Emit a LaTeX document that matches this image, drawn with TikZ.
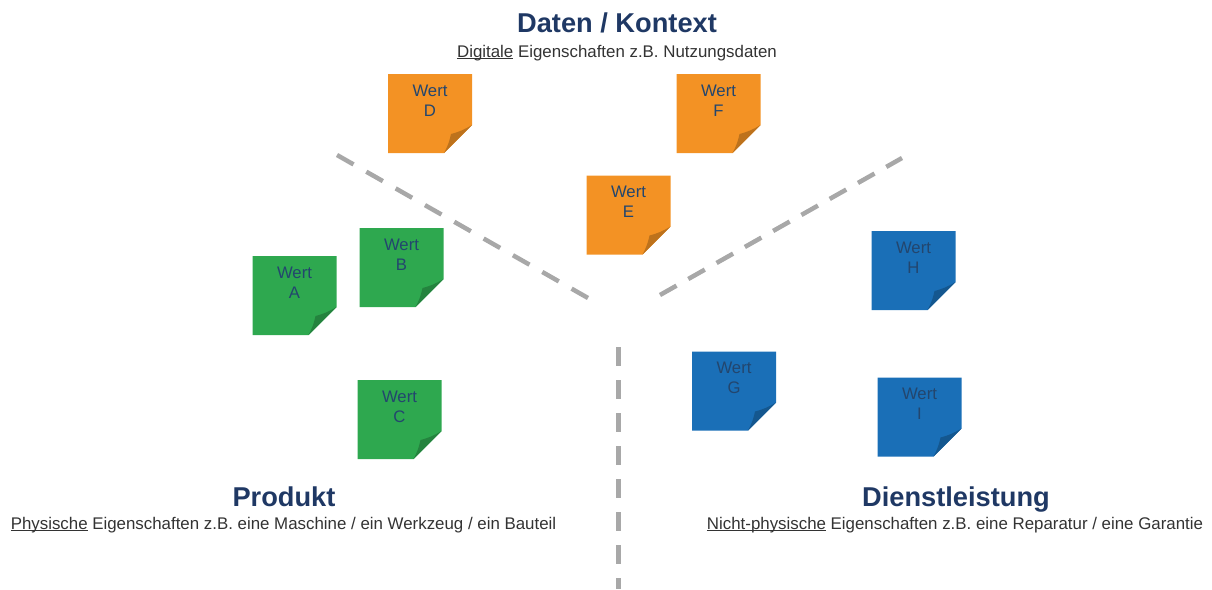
\documentclass[tikz,border=0pt]{standalone}
\usepackage{fontspec}
\setmainfont{Liberation Sans}
\usepackage{xcolor}
\definecolor{TitleBlue}{HTML}{1F3864}
\definecolor{NoteOrange}{HTML}{F39224}
\definecolor{NoteGreen}{HTML}{2EA84F}
\definecolor{NoteBlue}{HTML}{1A6FB7}
\definecolor{NoteText}{HTML}{23466E}
\definecolor{SubGrey}{HTML}{333333}
\definecolor{SepGrey}{HTML}{A8A8A8}
\usepackage{tikz}
\usetikzlibrary{positioning}
% underline that sits just under the baseline
\newcommand{\uword}[1]{\setbox0\hbox{#1}\rlap{\rule[-1.2pt]{\wd0}{0.5pt}}\box0\relax}

\begin{document}
\begin{tikzpicture}[
  x=0.2mm, y=-0.2mm,
  note/.style={minimum width=16.8mm, minimum height=15.8mm, inner sep=0pt,
    text height=8.4mm, text depth=7.4mm, align=center, text=NoteText,
    font=\fontsize{9.5}{11.3}\selectfont,
    path picture={
      \fill[#1] (path picture bounding box.north west) -- (path picture bounding box.north east) -- ([yshift=5.6mm]path picture bounding box.south east) -- ([xshift=-5.6mm]path picture bounding box.south east) -- (path picture bounding box.south west) -- cycle;
      \fill[#1!78!black] ([yshift=5.6mm]path picture bounding box.south east) to[bend left=8] ([xshift=-4.2mm,yshift=3.8mm]path picture bounding box.south east) to[bend left=8] ([xshift=-5.6mm]path picture bounding box.south east) -- cycle;
    }},
  title/.style={font=\fontsize{15.5}{18}\selectfont\bfseries, text=TitleBlue, inner sep=0pt, anchor=base},
  subtitle/.style={font=\fontsize{9.6}{11.5}\selectfont, text=SubGrey, inner sep=0pt, anchor=base},
  separator/.style={draw=SepGrey, line width=0.9mm, dash pattern=on 3.8mm off 2.8mm},
]
\useasboundingbox (0,0) rectangle (1212,589);

% separators
\draw[separator, dash pattern=on 3.8mm off 2.95mm] (337,155) -- (588,298);
\draw[separator, dash pattern=on 3.8mm off 2.7mm] (660,295) -- (902,158);
\draw[separator] (618.5,347) -- (618.5,589);

% headings
\node[title] (daten) at (617,32) {Daten / Kontext};
\node[subtitle] (datensub) at (617,57) {\uword{Digitale} Eigenschaften z.B. Nutzungsdaten};
\node[title] (produkt) at (284,506) {Produkt};
\node[subtitle] (produktsub) at (283.5,529) {\uword{Physische} Eigenschaften z.B. eine Maschine / ein Werkzeug / ein Bauteil};
\node[title] (dienst) at (956,506) {Dienstleistung};
\node[subtitle] (dienstsub) at (955,529) {\uword{Nicht-physische} Eigenschaften z.B. eine Reparatur / eine Garantie};

% notes
\node[note=NoteOrange] (noteD) at (430,113.5) {Wert\\D};
\node[note=NoteOrange] (noteF) at (718.5,113.5) {Wert\\F};
\node[note=NoteOrange] (noteE) at (628.5,215) {Wert\\E};
\node[note=NoteGreen] (noteA) at (294.5,295.5) {Wert\\A};
\node[note=NoteGreen] (noteB) at (401.5,267.5) {Wert\\B};
\node[note=NoteGreen] (noteC) at (399.5,419.5) {Wert\\C};
\node[note=NoteBlue] (noteG) at (734,391) {Wert\\G};
\node[note=NoteBlue] (noteH) at (913.5,270.5) {Wert\\H};
\node[note=NoteBlue] (noteI) at (919.5,417) {Wert\\I};
\end{tikzpicture}
\end{document}
